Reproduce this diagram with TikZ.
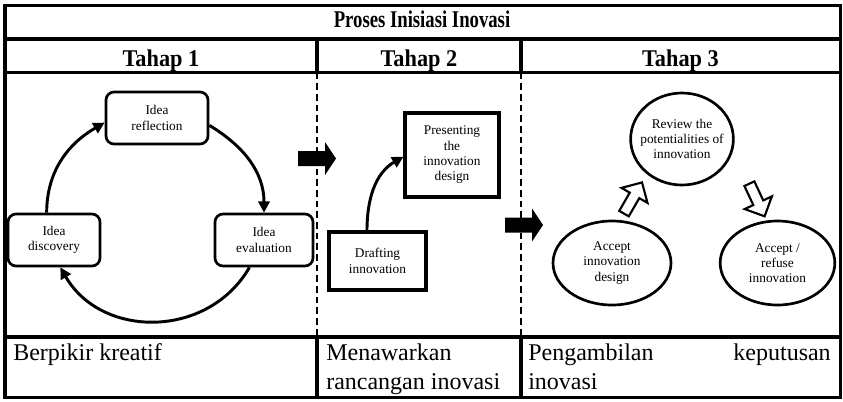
\documentclass[tikz,border=0pt]{standalone}
\usepackage{fontspec}
\usepackage{graphicx}
\setmainfont{Liberation Serif}
\usetikzlibrary{arrows.meta,shapes.geometric}
\begin{document}
\begin{tikzpicture}[x=0.75pt,y=-0.75pt,
  frame/.style={line width=2.3pt},
  divider/.style={line width=1pt,dash pattern=on 5pt off 3pt},
  head/.style={font=\fontsize{18}{20}\selectfont\bfseries,inner sep=0pt,anchor=base},
  cell/.style={font=\fontsize{18}{21}\selectfont,inner sep=0pt},
  small/.style={font=\fontsize{10}{11.5}\selectfont,align=center,inner sep=0pt},
  idea/.style={small,draw,line width=2pt,rounded corners=6pt},
  stage box/.style={small,draw,line width=2.3pt},
  oval/.style={small,ellipse,draw,line width=2pt},
  flow/.style={line width=2.2pt,-{Triangle[length=8.5pt,width=8.5pt]}},
  block arrow/.pic={\fill (-19,-7.5) -- (8,-7.5) -- (8,-16.5) -- (19,0) -- (8,16.5) -- (8,7.5) -- (-19,7.5) -- cycle;},
  open arrow/.pic={\draw[line width=1.6pt,fill=white,line join=miter] (-18,-5.5) -- (3,-5.5) -- (3,-15) -- (18,0) -- (3,15) -- (3,5.5) -- (-18,5.5) -- cycle;}
]
\useasboundingbox (0,0) rectangle (843,401);

% table frame and rules
\draw[frame] (5,5.5) rectangle (840.5,397.5);
\draw[frame] (5,39) -- (840.5,39) (5,72.5) -- (840.5,72.5) (5,337) -- (840.5,337);
\draw[frame] (317,39) -- (317,72.5) (521,39) -- (521,72.5)
             (317,337) -- (317,397.5) (521,337) -- (521,397.5);
\draw[divider] (317,72.5) -- (317,337) (521,72.5) -- (521,337);

% headings
\node[head] (title) at (422,27.7) {\scalebox{0.78}[1]{Proses Inisiasi Inovasi}};
\node[head] (t1) at (161,66.5) {\scalebox{0.93}[1]{Tahap 1}};
\node[head] (t2) at (419,66.5) {\scalebox{0.93}[1]{Tahap 2}};
\node[head] (t3) at (680.5,66.5) {\scalebox{0.93}[1]{Tahap 3}};

% stage 1: idea cycle
\node[idea,minimum width=76.5pt,minimum height=39pt] (refl) at (157,118) {Idea\\reflection};
\node[idea,minimum width=69pt,minimum height=39pt] (disc) at (54,240) {Idea\\discovery};
\node[idea,minimum width=73.5pt,minimum height=39pt] (eval) at (264,240) {Idea\\evaluation};
\draw[flow] (disc.105) to[out=90,in=210] (refl.185);
\draw[flow] (refl.-8) to[out=-31,in=90] (eval.north);
\draw[flow] (eval.242) to[out=-120,in=-60,looseness=1.12] (disc.283);

\pic at (317,158.5) {block arrow};

% stage 2
\node[stage box,minimum width=70.5pt,minimum height=63pt] (pres) at (452,155) {Presenting\\the\\innovation\\design};
\node[stage box,minimum width=72.75pt,minimum height=43.5pt] (draft) at (377.5,261) {Drafting\\innovation};
\draw[flow] (draft.109) to[out=90,in=210] (pres.182);

\pic at (524,225) {block arrow};

% stage 3
\node[oval,inner xsep=-4pt,minimum width=76.5pt,minimum height=69pt] (review) at (682,139) {Review the\\potentialities of\\innovation};
\node[oval,minimum width=88.5pt,minimum height=63pt] (adopt) at (612,263) {Accept\\innovation\\design};
\node[oval,minimum width=86pt,minimum height=63pt] (decide) at (777.5,263) {Accept /\\refuse\\innovation};
\pic[rotate=60] at (633,198) {open arrow};
\pic[rotate=-65] at (757,200) {open arrow};

% bottom row
\node[cell,anchor=base west] (c1) at (13,360) {Berpikir kreatif};
\node[cell,anchor=base west] (c2a) at (326,360) {Menawarkan};
\node[cell,anchor=base west] (c2b) at (326,389) {rancangan inovasi};
\node[cell,anchor=base west] (c3a) at (528,360) {Pengambilan};
\node[cell,anchor=base east] (c3b) at (831,360) {keputusan};
\node[cell,anchor=base west] (c3c) at (528,389) {inovasi};
\end{tikzpicture}
\end{document}
